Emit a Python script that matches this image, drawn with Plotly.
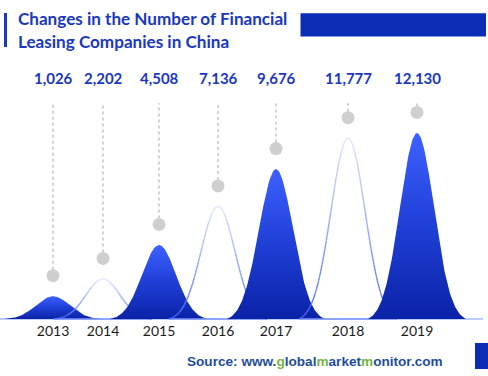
import numpy as np
import plotly.graph_objects as go

# ---------------- data ----------------
years = ["2013", "2014", "2015", "2016", "2017", "2018", "2019"]
companies = [1026, 2202, 4508, 7136, 9676, 11777, 12130]
value_labels = ["1,026", "2,202", "4,508", "7,136", "9,676", "11,777", "12,130"]

# ---------------- layout / style ----------------
W, H = 488, 376
ML, MR, MT, MB = 0, 5, 0, 55
PLOT_W = W - ML - MR
PLOT_H = H - MT - MB
centers = [53, 103, 159, 218, 276, 348, 417]          # x-axis units
filled = [True, False, True, False, True, False, True]
PX_PER_UNIT = 0.0147
BASE = -520                                            # baseline of the peaks
Y_LO = BASE - 2 / PX_PER_UNIT
Y_HI = Y_LO + PLOT_H / PX_PER_UNIT
HALF_W, SIGMA = 49, 17
DOT_OFFSET = 1400
STEM_TOP = 14150

TITLE_C = "#1a37bf"
BLOCK_C = "#0b2cb4"


def px_y(py):
    return (PLOT_H - (py - MT)) / PLOT_H


def px_x(px):
    return (px - ML) / PLOT_W


def hex_mix(c1, c2, t):
    a = [int(c1[i:i + 2], 16) for i in (1, 3, 5)]
    b = [int(c2[i:i + 2], 16) for i in (1, 3, 5)]
    return "#%02x%02x%02x" % tuple(round(a[i] + (b[i] - a[i]) * t) for i in range(3))


xs = np.linspace(-HALF_W, HALF_W, 141)
e0 = np.exp(-HALF_W ** 2 / (2 * SIGMA ** 2))
shape = (np.exp(-xs ** 2 / (2 * SIGMA ** 2)) - e0) / (1 - e0)

fig = go.Figure()

# dotted stems
sx, sy = [], []
for c, v in zip(centers, companies):
    sx += [c, c, None]
    sy += [v + DOT_OFFSET, STEM_TOP, None]
fig.add_trace(go.Scatter(x=sx, y=sy, mode="lines", hoverinfo="skip",
                         line=dict(color="#c8c8c8", width=1.6, dash="dot")))
# circles
fig.add_trace(go.Scatter(x=centers, y=[v + DOT_OFFSET for v in companies], mode="markers",
                         marker=dict(size=13, color="#cfcfcf"), hoverinfo="skip"))

K = 14
for c, v, f in zip(centers, companies, filled):
    px_ = c + xs
    py_ = BASE + (v - BASE) * shape
    if f:
        fig.add_trace(go.Scatter(
            x=px_, y=py_, mode="lines", fill="toself", line=dict(width=0),
            fillgradient=dict(type="vertical",
                              colorscale=[[0, "#0a22a6"], [0.5, "#1f3fd6"], [1, "#3d60ff"]]),
            hoverinfo="skip"))
    else:
        fig.add_trace(go.Scatter(x=[c - HALF_W, c + HALF_W], y=[BASE, BASE], mode="lines",
                                 line=dict(color="#7e96ff", width=1.3), hoverinfo="skip"))
        for k in range(K):
            bx, by = [], []
            for i in range(len(xs) - 1):
                m = (shape[i] + shape[i + 1]) / 2
                if k / K <= m < (k + 1) / K or (k == K - 1 and m >= 1):
                    bx += [px_[i], px_[i + 1], None]
                    by += [py_[i], py_[i + 1], None]
            col = hex_mix("#4a6cff", "#dfe6ff", (k + 0.5) / K)
            fig.add_trace(go.Scatter(x=bx, y=by, mode="lines",
                                     line=dict(color=col, width=1.4), hoverinfo="skip"))

annotations = []
for c, lab in zip(centers, value_labels):
    annotations.append(dict(x=c, xref="x", y=px_y(78), yref="paper", text="<b>%s</b>" % lab,
                            showarrow=False, xanchor="center", yanchor="middle",
                            font=dict(family="Lato", size=15, color=TITLE_C)))
annotations.append(dict(x=px_x(16), y=px_y(18), xref="paper", yref="paper",
                        text="<b>Changes in the Number of Financial</b>", showarrow=False,
                        xanchor="left", yanchor="middle",
                        font=dict(family="Lato", size=17.1, color=TITLE_C)))
annotations.append(dict(x=px_x(16), y=px_y(41), xref="paper", yref="paper",
                        text="<b>Leasing Companies in China</b>", showarrow=False,
                        xanchor="left", yanchor="middle",
                        font=dict(family="Lato", size=17.1, color=TITLE_C)))
G = "#79b543"
src = ("<b>Source: www.<span style='color:%s'>g</span>lobal<span style='color:%s'>m</span>arket"
       "<span style='color:%s'>m</span>onitor.com</b>") % (G, G, G)
annotations.append(dict(x=px_x(314.5), y=px_y(361), xref="paper", yref="paper", text=src,
                        showarrow=False, xanchor="center", yanchor="middle",
                        font=dict(family="Liberation Sans", size=13.6, color="#1f4d9c")))

shapes = [
    dict(type="line", xref="x", yref="y", x0=0, x1=PLOT_W, y0=BASE, y1=BASE,
         line=dict(color="#a9bdff", width=1.3), layer="below"),
    dict(type="rect", xref="paper", yref="paper", x0=px_x(4), x1=px_x(7),
         y0=px_y(47), y1=px_y(13), fillcolor=TITLE_C, line=dict(width=0)),
    dict(type="rect", xref="paper", yref="paper", x0=px_x(300.5), x1=px_x(486),
         y0=px_y(36.5), y1=px_y(13.3), fillcolor=BLOCK_C, line=dict(width=0)),
    dict(type="rect", xref="paper", yref="paper", x0=px_x(475), x1=px_x(490),
         y0=px_y(369), y1=px_y(343), fillcolor=BLOCK_C, line=dict(width=0)),
]

fig.update_layout(
    width=W, height=H, margin=dict(l=ML, r=MR, t=MT, b=MB, pad=0),
    paper_bgcolor="white", plot_bgcolor="white", showlegend=False,
    annotations=annotations, shapes=shapes,
    xaxis=dict(range=[0, PLOT_W], showgrid=False, zeroline=False, showline=False,
               tickmode="array", tickvals=centers, ticktext=years, ticks="",
               tickfont=dict(family="Lato", size=14, color="#1a1a1a"), fixedrange=True),
    yaxis=dict(range=[Y_LO, Y_HI], showgrid=False, zeroline=False, showline=False,
               showticklabels=False, fixedrange=True),
)

fig.write_html("out.html", config={"displayModeBar": False},
               post_script="document.body.style.margin='0';document.body.style.overflow='hidden';")
